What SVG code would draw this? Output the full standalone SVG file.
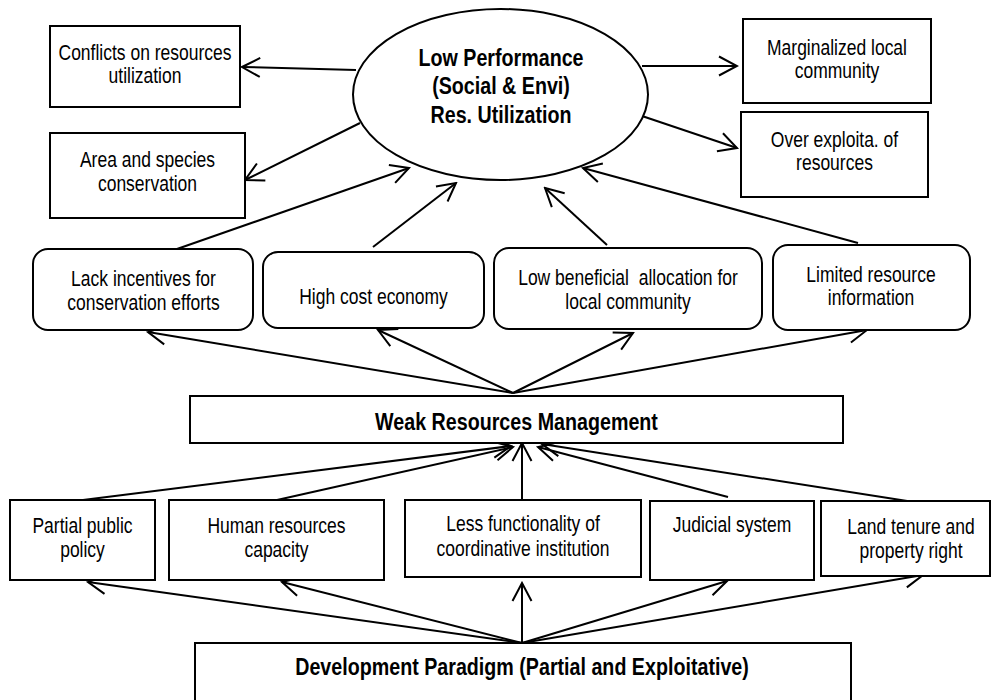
<svg xmlns="http://www.w3.org/2000/svg" width="992" height="700" viewBox="0 0 992 700">
<style>
.box{fill:#fff;stroke:#000;stroke-width:2}
.t{font-family:"Liberation Sans",Arial,sans-serif;font-size:21.33px;fill:#000;text-anchor:middle}
.b{font-family:"Liberation Sans",Arial,sans-serif;font-size:24px;font-weight:bold;fill:#000;text-anchor:middle}
.c line{stroke:#000;stroke-width:2;fill:none;marker-end:url(#ah)}
</style>
<defs>
<marker id="ah" viewBox="-22 -12 24 24" refX="0" refY="0" markerWidth="24" markerHeight="24" markerUnits="userSpaceOnUse" orient="auto">
<path d="M-18,-9.5 L0,0 L-18,9.5" fill="none" stroke="#000" stroke-width="2"/>
</marker>
</defs>
<rect x="0" y="0" width="992" height="700" fill="#fff"/>
<g id="connectors" class="c">
<line x1="356" y1="70" x2="242" y2="67"/>
<line x1="360" y1="123" x2="245" y2="180"/>
<line x1="642" y1="66" x2="737" y2="66"/>
<line x1="642" y1="116" x2="737" y2="148"/>
<line x1="177" y1="249" x2="409" y2="168"/>
<line x1="373" y1="247" x2="456" y2="183"/>
<line x1="607" y1="245" x2="545" y2="188"/>
<line x1="858" y1="243" x2="583" y2="168"/>
<line x1="513" y1="393" x2="148" y2="332"/>
<line x1="513" y1="393" x2="378" y2="330"/>
<line x1="513" y1="393" x2="633" y2="333"/>
<line x1="513" y1="393" x2="867" y2="330"/>
<line x1="83" y1="500" x2="511" y2="446"/>
<line x1="277" y1="500" x2="513" y2="447"/>
<line x1="522" y1="499" x2="522" y2="443"/>
<line x1="728" y1="497" x2="538" y2="447"/>
<line x1="920" y1="503" x2="542" y2="444"/>
<line x1="522" y1="643" x2="88" y2="582"/>
<line x1="522" y1="643" x2="282" y2="582"/>
<line x1="522" y1="643" x2="522" y2="583"/>
<line x1="522" y1="643" x2="727" y2="581"/>
<line x1="522" y1="643" x2="923" y2="575"/>
</g>
<g id="low-performance">
<ellipse cx="500.5" cy="94.5" rx="147.5" ry="85.5" fill="#fff" stroke="#000" stroke-width="2"/>
<text class="b" transform="translate(501 66) scale(0.82 1)">Low Performance</text>
<text class="b" transform="translate(501 94) scale(0.82 1)">(Social &amp; Envi)</text>
<text class="b" transform="translate(501 123) scale(0.82 1)">Res. Utilization</text>
</g>
<g id="conflicts">
<rect class="box" x="50" y="26" width="190" height="81"/>
<text class="t" transform="translate(145 60) scale(0.82 1)">Conflicts on resources</text>
<text class="t" transform="translate(145 83) scale(0.82 1)">utilization</text>
</g>
<g id="area-species">
<rect class="box" x="50" y="133" width="195" height="85"/>
<text class="t" transform="translate(147.5 167) scale(0.82 1)">Area and species</text>
<text class="t" transform="translate(147.5 191) scale(0.82 1)">conservation</text>
</g>
<g id="marginalized">
<rect class="box" x="743" y="19" width="188" height="84"/>
<text class="t" transform="translate(837 55) scale(0.82 1)">Marginalized local</text>
<text class="t" transform="translate(837 78) scale(0.82 1)">community</text>
</g>
<g id="over-exploitation">
<rect class="box" x="741" y="112" width="187" height="85"/>
<text class="t" transform="translate(834.5 147) scale(0.82 1)">Over exploita. of</text>
<text class="t" transform="translate(834.5 170) scale(0.82 1)">resources</text>
</g>
<g id="lack-incentives">
<rect class="box" x="33" y="249" width="220" height="81" rx="15"/>
<text class="t" transform="translate(143.5 286) scale(0.82 1)">Lack incentives for</text>
<text class="t" transform="translate(143.5 310) scale(0.82 1)">conservation efforts</text>
</g>
<g id="high-cost">
<rect class="box" x="263" y="252" width="221" height="76" rx="15"/>
<text class="t" transform="translate(373.5 304) scale(0.82 1)">High cost economy</text>
</g>
<g id="low-beneficial">
<rect class="box" x="494" y="248" width="268" height="81" rx="15"/>
<text class="t" transform="translate(628 285) scale(0.82 1)" style="white-space:pre">Low beneficial  allocation for</text>
<text class="t" transform="translate(628 309) scale(0.82 1)">local community</text>
</g>
<g id="limited-info">
<rect class="box" x="773" y="245" width="197" height="85" rx="15"/>
<text class="t" transform="translate(871 282) scale(0.82 1)">Limited resource</text>
<text class="t" transform="translate(871 305) scale(0.82 1)">information</text>
</g>
<g id="weak-management">
<rect class="box" x="190" y="396" width="653" height="47"/>
<text class="b" transform="translate(516.5 430) scale(0.82 1)">Weak Resources Management</text>
</g>
<g id="partial-policy">
<rect class="box" x="10" y="500" width="145" height="80"/>
<text class="t" transform="translate(82.5 533) scale(0.82 1)">Partial public</text>
<text class="t" transform="translate(82.5 557) scale(0.82 1)">policy</text>
</g>
<g id="human-resources">
<rect class="box" x="169" y="500" width="215" height="80"/>
<text class="t" transform="translate(276.5 533) scale(0.82 1)">Human resources</text>
<text class="t" transform="translate(276.5 557) scale(0.82 1)">capacity</text>
</g>
<g id="less-functionality">
<rect class="box" x="405" y="500" width="236" height="77"/>
<text class="t" transform="translate(523 531) scale(0.82 1)">Less functionality of</text>
<text class="t" transform="translate(523 556) scale(0.82 1)">coordinative institution</text>
</g>
<g id="judicial">
<rect class="box" x="650" y="501" width="164" height="79"/>
<text class="t" transform="translate(732 532) scale(0.82 1)">Judicial system</text>
</g>
<g id="land-tenure">
<rect class="box" x="821" y="501" width="169" height="75"/>
<text class="t" transform="translate(911 534) scale(0.82 1)">Land tenure and</text>
<text class="t" transform="translate(911 558) scale(0.82 1)">property right</text>
</g>
<g id="development-paradigm">
<rect class="box" x="195" y="643" width="656" height="70"/>
<text class="b" transform="translate(522 675) scale(0.82 1)">Development Paradigm (Partial and Exploitative)</text>
</g>
</svg>
